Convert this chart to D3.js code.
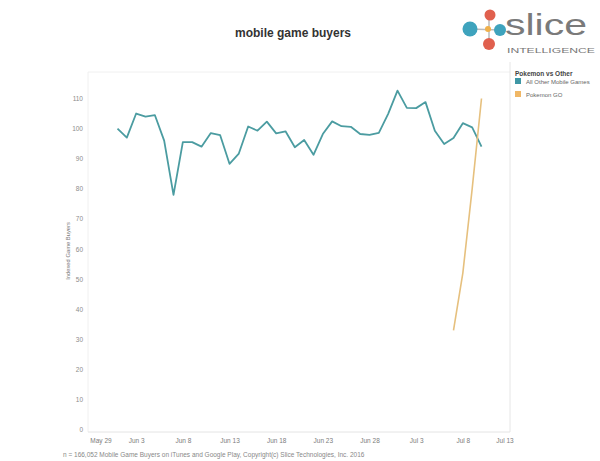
<!DOCTYPE html>
<html><head><meta charset="utf-8">
<script src="https://cdn.jsdelivr.net/npm/d3@7"></script>
<style>body{margin:0;background:#fff;font-family:"Liberation Sans",Arial,sans-serif}</style>
</head><body><svg id="c" width="600" height="461"></svg>
<script>
const otherDates = ["2016-06-01","2016-06-02","2016-06-03","2016-06-04","2016-06-05","2016-06-06","2016-06-07","2016-06-08","2016-06-09","2016-06-10","2016-06-11","2016-06-12","2016-06-13","2016-06-14","2016-06-15","2016-06-16","2016-06-17","2016-06-18","2016-06-19","2016-06-20","2016-06-21","2016-06-22","2016-06-23","2016-06-24","2016-06-25","2016-06-26","2016-06-27","2016-06-28","2016-06-29","2016-06-30","2016-07-01","2016-07-02","2016-07-03","2016-07-04","2016-07-05","2016-07-06","2016-07-07","2016-07-08","2016-07-09","2016-07-10"];
const otherValues = [100,97,105,104,104.5,96,78,95.5,95.5,94,98.5,97.8,88.3,91.7,100.7,99.3,102.3,98.4,99.1,93.8,96.2,91.3,98.2,102.4,100.8,100.6,98.2,97.9,98.6,104.9,112.6,106.9,106.8,108.8,99.3,94.9,96.9,101.8,100.4,94.0];
const pokemonDates = ["2016-07-07","2016-07-08","2016-07-09","2016-07-10"];
const pokemonValues = [33,52,80,110];
const yTicks = [0,10,20,30,40,50,60,70,80,90,100,110];
const xTickDates = ["2016-05-29","2016-06-03","2016-06-08","2016-06-13","2016-06-18","2016-06-23","2016-06-28","2016-07-03","2016-07-08","2016-07-13"];
const xTickLabels = ["May 29","Jun 3","Jun 8","Jun 13","Jun 18","Jun 23","Jun 28","Jul 3","Jul 8","Jul 13"];
const legendLabels = ["All Other Mobile Games","Pokemon GO"];
const colors = ["#4b9ca1","#e6c07e"];
const swatchColors = ["#3f97a5","#f0b765"];

const parse = d3.utcParse("%Y-%m-%d");
const svg = d3.select("#c");
const L=88, R=510, T=72, B=432;
const x = d3.scaleUtc().domain([parse("2016-05-29"), parse("2016-07-13")]).range([89.5, 509.5]);
const y = d3.scaleLinear().domain([-0.8, 118.8]).range([B, T]);

// pane
svg.append("line").attr("x1",L).attr("x2",R).attr("y1",T).attr("y2",T).attr("stroke","#f0f0f0");
svg.append("line").attr("x1",L).attr("x2",L).attr("y1",T).attr("y2",B).attr("stroke","#f0f0f0");
svg.append("line").attr("x1",R).attr("x2",R).attr("y1",T-10).attr("y2",B).attr("stroke","#e6e6e6");
svg.append("line").attr("x1",L).attr("x2",R).attr("y1",B).attr("y2",B).attr("stroke","#e4e4e4");

// y axis
const yAxis = svg.append("g").attr("transform",`translate(${L},0)`)
  .call(d3.axisLeft(y).tickValues(yTicks).tickSize(0).tickPadding(5));
yAxis.select(".domain").remove();
yAxis.selectAll("text").attr("font-size",6.5).attr("fill","#8c8c8c").attr("font-family","Liberation Sans, Arial");

// x axis
const xAxis = svg.append("g").attr("transform",`translate(0,${B})`)
  .call(d3.axisBottom(x).tickValues(xTickDates.map(parse)).tickSize(0).tickPadding(6)
    .tickFormat((d,i)=>xTickLabels[i]));
xAxis.select(".domain").remove();
xAxis.selectAll("text").attr("font-size",6.5).attr("fill","#7c7c7c").attr("font-family","Liberation Sans, Arial")
  .attr("dx",(d,i)=> i===0 ? 11 : (i===xTickDates.length-1 ? -5 : 0));

// axis title
svg.append("text").attr("transform","translate(70,251) rotate(-90)").attr("text-anchor","middle")
  .attr("font-size",5.8).attr("fill","#777").text("Indexed Game Buyers");

// lines
const line = d3.line().x(d=>x(d[0])).y(d=>y(d[1]));
svg.append("path").datum(otherDates.map((d,i)=>[parse(d),otherValues[i]]))
  .attr("d",line).attr("fill","none").attr("stroke",colors[0]).attr("stroke-width",1.8).attr("stroke-linejoin","round");
svg.append("path").datum(pokemonDates.map((d,i)=>[parse(d),pokemonValues[i]]))
  .attr("d",line).attr("fill","none").attr("stroke",colors[1]).attr("stroke-width",1.6).attr("stroke-linejoin","round");

// title
svg.append("text").attr("x",293).attr("y",37).attr("text-anchor","middle").attr("font-size",12)
  .attr("font-weight","bold").attr("fill","#333").text("mobile game buyers");

// legend
svg.append("text").attr("x",515).attr("y",76).attr("font-size",6.5).attr("font-weight","bold").attr("fill","#444").text("Pokemon vs Other");
legendLabels.forEach((l,i)=>{
  svg.append("rect").attr("x",515).attr("y",78+i*13).attr("width",6).attr("height",6).attr("fill",swatchColors[i]);
  svg.append("text").attr("x",526).attr("y",84+i*13).attr("font-size",6).attr("fill","#666").text(l);
});

// footnote
svg.append("text").attr("x",63).attr("y",457).attr("font-size",6.5).attr("fill","#888")
  .text("n = 166,052 Mobile Game Buyers on iTunes and Google Play, Copyright(c) Slice Technologies, Inc. 2016");

// logo
const lg = svg.append("g");
lg.append("line").attr("x1",470).attr("y1",29).attr("x2",500).attr("y2",30).attr("stroke","#bbb").attr("stroke-width",1.5);
lg.append("line").attr("x1",489).attr("y1",15).attr("x2",489).attr("y2",44).attr("stroke","#bbb").attr("stroke-width",1.5);
lg.append("circle").attr("cx",470).attr("cy",29).attr("r",7.5).attr("fill","#3ea3bd");
lg.append("circle").attr("cx",490).attr("cy",15).attr("r",5.5).attr("fill","#e0604e");
lg.append("circle").attr("cx",488).attr("cy",29).attr("r",3).attr("fill","#f0b04a");
lg.append("circle").attr("cx",500).attr("cy",30).attr("r",6).attr("fill","#3ea3bd");
lg.append("circle").attr("cx",489).attr("cy",44).attr("r",6).attr("fill","#e0604e");
lg.append("text").attr("x",505).attr("y",35).attr("font-size",30).attr("fill","#7a7a7a").attr("font-family","Liberation Sans, Arial")
  .attr("textLength",82).attr("lengthAdjust","spacingAndGlyphs").text("slice");
lg.append("text").attr("x",507).attr("y",53).attr("font-size",8).attr("fill","#777").attr("font-family","Liberation Sans, Arial")
  .attr("textLength",88).attr("lengthAdjust","spacingAndGlyphs").text("INTELLIGENCE");
</script></body></html>
